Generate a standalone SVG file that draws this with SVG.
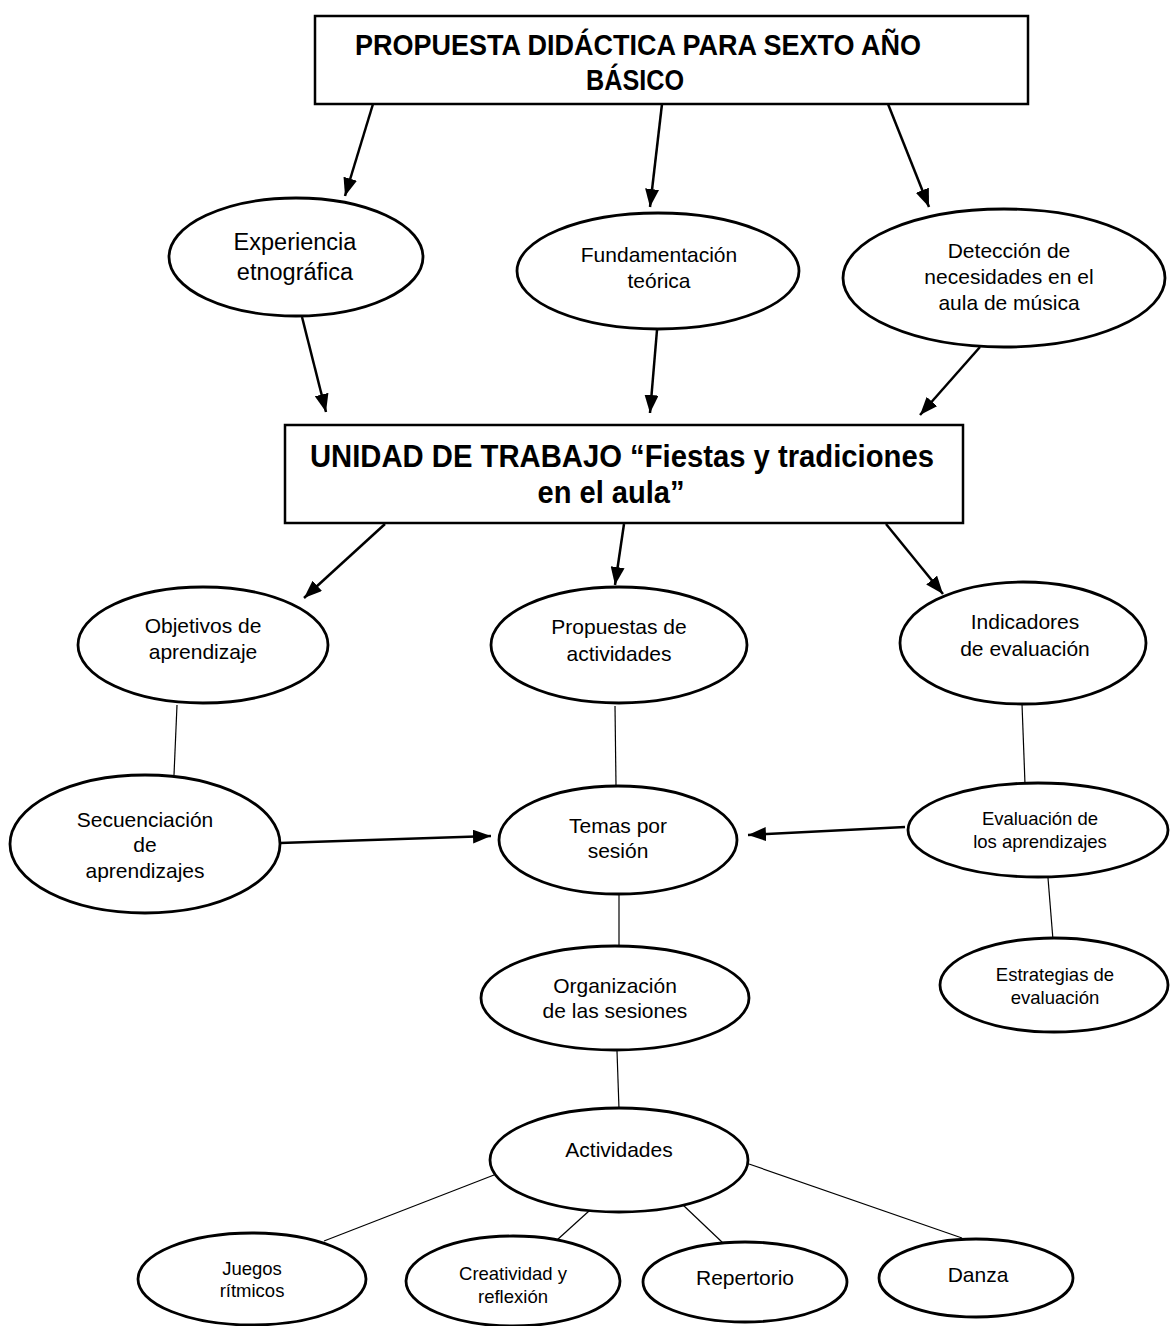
<svg xmlns="http://www.w3.org/2000/svg" width="1170" height="1326" viewBox="0 0 1170 1326">
  <style>
    .box { fill: #fff; stroke: #000; stroke-width: 2.5; }
    .node { fill: #fff; stroke: #000; stroke-width: 2.8; }
    .title { font-family: "Liberation Sans", Arial, sans-serif; font-weight: bold; fill: #000; text-anchor: middle; }
    .lbl { font-family: "Liberation Sans", Arial, sans-serif; font-size: 21px; fill: #000; text-anchor: middle; }
    .sm { font-size: 18.5px; }
    .lg { font-size: 23.5px; }
    .arrow { stroke: #000; stroke-width: 2.5; fill: none; marker-end: url(#head); }
    .link { stroke: #000; stroke-width: 1.2; fill: none; }
  </style>
  <defs>
    <marker id="head" viewBox="0 0 18 14" refX="18" refY="7" markerWidth="18" markerHeight="14" markerUnits="userSpaceOnUse" orient="auto">
      <path d="M0,0 L18,7 L0,14 z" fill="#000"/>
    </marker>
  </defs>
  <rect width="1170" height="1326" fill="#fff"/>

  <!-- connectors -->
  <g id="connectors">
    <line class="arrow" x1="373" y1="104" x2="345" y2="196"/>
    <line class="arrow" x1="662" y1="104" x2="650" y2="207"/>
    <line class="arrow" x1="888" y1="104" x2="929" y2="207"/>
    <line class="arrow" x1="302" y1="317" x2="326" y2="412"/>
    <line class="arrow" x1="657" y1="330" x2="650" y2="413"/>
    <line class="arrow" x1="980" y1="347" x2="920" y2="415"/>
    <line class="arrow" x1="385" y1="524" x2="304" y2="598"/>
    <line class="arrow" x1="624" y1="524" x2="615" y2="585"/>
    <line class="arrow" x1="886" y1="524" x2="943" y2="594"/>
    <line class="link" x1="177" y1="705" x2="174" y2="775"/>
    <line class="link" x1="615" y1="706" x2="616" y2="786"/>
    <line class="link" x1="1022" y1="704" x2="1025" y2="784"/>
    <line class="arrow" x1="280" y1="843" x2="491" y2="836"/>
    <line class="arrow" x1="905" y1="827" x2="748" y2="835"/>
    <line class="link" x1="1048" y1="878" x2="1053" y2="940"/>
    <line class="link" x1="619" y1="894" x2="619" y2="946"/>
    <line class="link" x1="617" y1="1051" x2="619" y2="1109"/>
    <line class="link" x1="494" y1="1175" x2="324" y2="1241"/>
    <line class="link" x1="589" y1="1211" x2="557" y2="1240"/>
    <line class="link" x1="683" y1="1205" x2="723" y2="1243"/>
    <line class="link" x1="749" y1="1164" x2="962" y2="1238"/>
  </g>

  <g id="propuesta">
    <rect class="box" x="315" y="16" width="713" height="88"/>
    <text class="title" x="638" y="55" font-size="29" textLength="566" lengthAdjust="spacingAndGlyphs">PROPUESTA DIDÁCTICA PARA SEXTO AÑO</text>
    <text class="title" x="635" y="90" font-size="29" textLength="98" lengthAdjust="spacingAndGlyphs">BÁSICO</text>
  </g>

  <g id="experiencia">
    <ellipse class="node" cx="296" cy="257" rx="127" ry="59"/>
    <text class="lbl lg" x="295" y="250">Experiencia</text>
    <text class="lbl lg" x="295" y="280">etnográfica</text>
  </g>

  <g id="fundamentacion">
    <ellipse class="node" cx="658" cy="271" rx="141" ry="58"/>
    <text class="lbl" x="659" y="262">Fundamentación</text>
    <text class="lbl" x="659" y="288">teórica</text>
  </g>

  <g id="deteccion">
    <ellipse class="node" cx="1004" cy="278" rx="161" ry="69"/>
    <text class="lbl" x="1009" y="258">Detección de</text>
    <text class="lbl" x="1009" y="284">necesidades en el</text>
    <text class="lbl" x="1009" y="310">aula de música</text>
  </g>

  <g id="unidad">
    <rect class="box" x="285" y="425" width="678" height="98"/>
    <text class="title" x="622" y="467" font-size="31" textLength="624" lengthAdjust="spacingAndGlyphs">UNIDAD DE TRABAJO “Fiestas y tradiciones</text>
    <text class="title" x="611" y="503" font-size="31" textLength="147" lengthAdjust="spacingAndGlyphs">en el aula”</text>
  </g>

  <g id="objetivos">
    <ellipse class="node" cx="203" cy="645" rx="125" ry="58"/>
    <text class="lbl" x="203" y="633">Objetivos de</text>
    <text class="lbl" x="203" y="659">aprendizaje</text>
  </g>

  <g id="propuestas">
    <ellipse class="node" cx="619" cy="645" rx="128" ry="58"/>
    <text class="lbl" x="619" y="634">Propuestas de</text>
    <text class="lbl" x="619" y="661">actividades</text>
  </g>

  <g id="indicadores">
    <ellipse class="node" cx="1023" cy="643" rx="123" ry="61"/>
    <text class="lbl" x="1025" y="629">Indicadores</text>
    <text class="lbl" x="1025" y="656">de evaluación</text>
  </g>

  <g id="secuenciacion">
    <ellipse class="node" cx="145" cy="844" rx="135" ry="69"/>
    <text class="lbl" x="145" y="827">Secuenciación</text>
    <text class="lbl" x="145" y="852">de</text>
    <text class="lbl" x="145" y="878">aprendizajes</text>
  </g>

  <g id="temas">
    <ellipse class="node" cx="618" cy="840" rx="119" ry="54"/>
    <text class="lbl" x="618" y="833">Temas por</text>
    <text class="lbl" x="618" y="858">sesión</text>
  </g>

  <g id="evaluacion">
    <ellipse class="node" cx="1038" cy="830" rx="130" ry="47"/>
    <text class="lbl sm" x="1040" y="825">Evaluación de</text>
    <text class="lbl sm" x="1040" y="848">los aprendizajes</text>
  </g>

  <g id="estrategias">
    <ellipse class="node" cx="1054" cy="985" rx="114" ry="47"/>
    <text class="lbl sm" x="1055" y="981">Estrategias de</text>
    <text class="lbl sm" x="1055" y="1004">evaluación</text>
  </g>

  <g id="organizacion">
    <ellipse class="node" cx="615" cy="998" rx="134" ry="52"/>
    <text class="lbl" x="615" y="993">Organización</text>
    <text class="lbl" x="615" y="1018">de las sesiones</text>
  </g>

  <g id="actividades">
    <ellipse class="node" cx="619" cy="1160" rx="129" ry="52"/>
    <text class="lbl" x="619" y="1157">Actividades</text>
  </g>

  <g id="juegos">
    <ellipse class="node" cx="252" cy="1279" rx="114" ry="46"/>
    <text class="lbl sm" x="252" y="1275">Juegos</text>
    <text class="lbl sm" x="252" y="1297">rítmicos</text>
  </g>

  <g id="creatividad">
    <ellipse class="node" cx="513" cy="1281" rx="107" ry="45"/>
    <text class="lbl sm" x="513" y="1280">Creatividad y</text>
    <text class="lbl sm" x="513" y="1303">reflexión</text>
  </g>

  <g id="repertorio">
    <ellipse class="node" cx="745" cy="1282" rx="102" ry="40"/>
    <text class="lbl" x="745" y="1285">Repertorio</text>
  </g>

  <g id="danza">
    <ellipse class="node" cx="976" cy="1278" rx="97" ry="39"/>
    <text class="lbl" x="978" y="1282">Danza</text>
  </g>
</svg>
